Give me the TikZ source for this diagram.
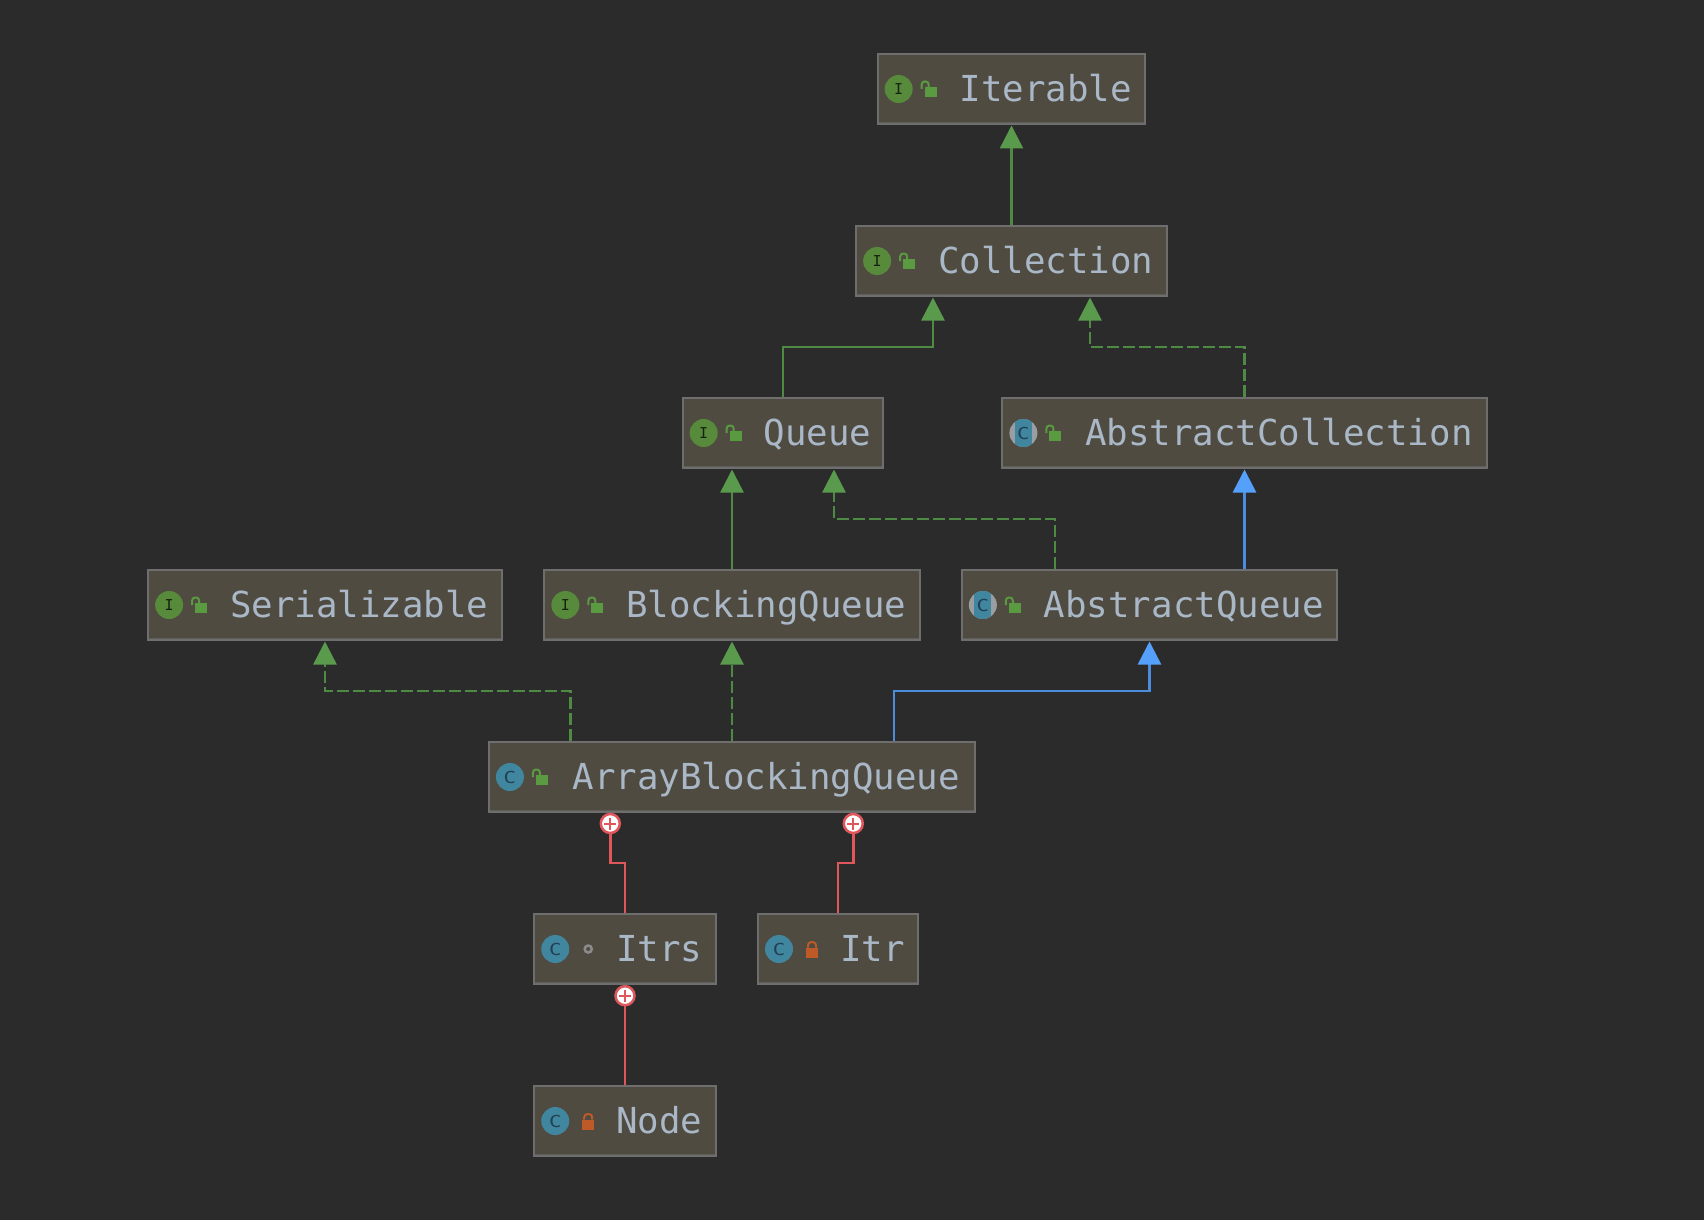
\documentclass[tikz,border=0pt]{standalone}
\usepackage{fontspec}
\setmonofont{DejaVu Sans Mono}
\usepackage{tikz}
\usetikzlibrary{arrows.meta}

\definecolor{bgdark}{HTML}{2B2B2B}
\definecolor{boxfill}{HTML}{4F4B41}
\definecolor{boxline}{HTML}{6E6E6E}
\definecolor{boxshade}{HTML}{5F5D57}
\definecolor{labeltext}{HTML}{A9B7C6}
\definecolor{greenline}{HTML}{4F8A44}
\definecolor{greentip}{HTML}{5A9A4C}
\definecolor{blueline}{HTML}{4C8CDC}
\definecolor{bluetip}{HTML}{54A0FA}
\definecolor{redline}{HTML}{E0575B}
\definecolor{ifgreen}{HTML}{588A3C}
\definecolor{clteal}{HTML}{40869F}
\definecolor{clmark}{HTML}{234155}
\definecolor{absgrey}{HTML}{9A9EA2}
\definecolor{lockgreen}{HTML}{5A9B41}
\definecolor{lockorange}{HTML}{BE5A28}

\newcommand{\clsmark}{\scalebox{1.25}[1]{C}}

\begin{document}
\begin{tikzpicture}[x = 0.5pt, y = -0.5pt, line width = 1.25pt,
    boxed/.style = {rectangle, draw = boxline, fill = boxfill, text = labeltext, line width = 1pt,
                    font = \ttfamily\fontsize{17.88pt}{20pt}\selectfont,
                    minimum height = 35pt, inner xsep = 6.7pt, inner ysep = 0pt,
                    text height = 12.75pt, text depth = 0pt,
                    execute at begin node = {\hspace*{34.3pt}},
                    path picture = {\draw [boxshade, line width = 2pt]
                      (path picture bounding box.south west) -- (path picture bounding box.south east);}},
    badge/.style = {circle, minimum size = 14pt, inner sep = 0pt,
                    font = \ttfamily\fontsize{8.25pt}{9pt}\selectfont},
    ifbadge/.style = {badge, fill = ifgreen, text = black!75!ifgreen, font = \ttfamily\fontsize{7.5pt}{8pt}\selectfont},
    clbadge/.style = {badge, fill = clteal, text = clmark},
    absbadge/.style = {badge, fill = absgrey, text = clmark,
                       path picture = {\fill [clteal]
                         ([xshift=-4.25pt]path picture bounding box.north) rectangle ([xshift=4.25pt]path picture bounding box.south);}},
    pluscircle/.style = {circle, draw = redline, fill = white, minimum size = 9.5pt, inner sep = 0pt,
                    path picture = {\draw [redline, line width = 1pt]
                      ([yshift=1.75pt]path picture bounding box.south) -- ([yshift=-1.75pt]path picture bounding box.north)
                      ([xshift=1.75pt]path picture bounding box.west) -- ([xshift=-1.75pt]path picture bounding box.east);}},
    ext/.style = {draw = greenline, -{Triangle[length = 11.5pt, width = 11.5pt, color = greentip]}, shorten > = 0.25pt},
    impl/.style = {ext, dash pattern = on 6pt off 2pt},
    clsext/.style = {draw = blueline, -{Triangle[length = 11.5pt, width = 11.5pt, color = bluetip]}, shorten > = 0.25pt},
    nested/.style = {draw = redline},
    lockopen/.pic = {
      \fill [lockgreen] (-6,-2) rectangle (6,8);
      \draw [lockgreen, line width = 1pt, rounded corners = 1.5pt] (-9,0) -- (-9,-7.5) -- (-2,-7.5) -- (-2,-2);},
    lockshut/.pic = {
      \fill [lockorange] (-6,-1.5) rectangle (6,8.5);
      \draw [lockorange, line width = 1pt, rounded corners = 1.5pt] (-4,-1.5) -- (-4,-6.8) -- (4,-6.8) -- (4,-1.5);},
    pkgdot/.pic = {
      \draw [boxline!80!white, line width = 1.25pt, rounded corners = 1.7pt] (-3.5,-3.5) rectangle (3.5,3.5);}]

  \fill [bgdark] (0,0) rectangle (1704,1220);

  % boxes
  \node [boxed] (iterable) at (1011.5, 89){Iterable};
  \node [boxed] (collection) at (1011.5, 261){Collection};
  \node [boxed, inner xsep = 6.1pt] (queue) at (783, 433){Queue};
  \node [boxed, inner xsep = 7pt] (abscoll) at (1244.5, 433){AbstractCollection};
  \node [boxed] (serial) at (325, 605){Serializable};
  \node [boxed] (blocking) at (732, 605){BlockingQueue};
  \node [boxed] (absqueue) at (1149.5, 605){AbstractQueue};
  \node [boxed, inner xsep = 7.5pt] (arrayq) at (732, 777){ArrayBlockingQueue};
  \node [boxed] (itrs) at (625, 949){Itrs};
  \node [boxed] (itr) at (838, 949){Itr};
  \node [boxed] (inode) at (625, 1121){Node};

  % badges
  \node [ifbadge] (iterableb) at ([xshift=11pt]iterable.west){I};
  \node [ifbadge] (collectionb) at ([xshift=11pt]collection.west){I};
  \node [ifbadge] (queueb) at ([xshift=11pt]queue.west){I};
  \node [absbadge] (abscollb) at ([xshift=11pt]abscoll.west){\clsmark};
  \node [ifbadge] (serialb) at ([xshift=11pt]serial.west){I};
  \node [ifbadge] (blockingb) at ([xshift=11pt]blocking.west){I};
  \node [absbadge] (absqueueb) at ([xshift=11pt]absqueue.west){\clsmark};
  \node [clbadge] (arrayqb) at ([xshift=11pt]arrayq.west){\clsmark};
  \node [clbadge] (itrsb) at ([xshift=11pt]itrs.west){\clsmark};
  \node [clbadge] (itrb) at ([xshift=11pt]itr.west){\clsmark};
  \node [clbadge] (inodeb) at ([xshift=11pt]inode.west){\clsmark};

  % locks
  \pic at ([xshift=27pt]iterable.west) {lockopen};
  \pic at ([xshift=27pt]collection.west) {lockopen};
  \pic at ([xshift=27pt]queue.west) {lockopen};
  \pic at ([xshift=27pt]abscoll.west) {lockopen};
  \pic at ([xshift=27pt]serial.west) {lockopen};
  \pic at ([xshift=27pt]blocking.west) {lockopen};
  \pic at ([xshift=27pt]absqueue.west) {lockopen};
  \pic at ([xshift=27pt]arrayq.west) {lockopen};
  \pic at ([xshift=27.5pt]itrs.west) {pkgdot};
  \pic at ([xshift=27.5pt]itr.west) {lockshut};
  \pic at ([xshift=27.5pt]inode.west) {lockshut};

  % inner class marks
  \node [pluscircle] (arrayp1) at (610.3, 823.5){};
  \node [pluscircle] (arrayp2) at (853.3, 823.5){};
  \node [pluscircle] (itrsp) at (625, 995.7){};

  % connectors
  \draw [ext] (collection) -- (iterable);
  \draw [ext] (queue.north) -- ++(0,-50) -| ([xshift=-39.25pt]collection.south);
  \draw [impl] (abscoll.north) -- ++(0,-50) -| ([xshift=39.25pt]collection.south);
  \draw [ext] (blocking.north) -- (blocking.north |- queue.south);
  \draw [impl] ([xshift=-47.25pt]absqueue.north) -- ++(0,-50) -| ([xshift=25.5pt]queue.south);
  \draw [clsext] (abscoll.south |- absqueue.north) -- (abscoll.south);
  \draw [impl] ([xshift=-80.75pt]arrayq.north) -- ++(0,-50) -| (serial.south);
  \draw [impl] (arrayq.north) -- (blocking.south);
  \draw [clsext] ([xshift=81pt]arrayq.north) -- ++(0,-50) -| (absqueue.south);
  \draw [nested] (itrs.north) -- ++(0,-50) -| (arrayp1.south);
  \draw [nested] (itr.north) -- ++(0,-50) -| (arrayp2.south);
  \draw [nested] (inode.north) -- (itrsp.south);
\end{tikzpicture}
\end{document}
